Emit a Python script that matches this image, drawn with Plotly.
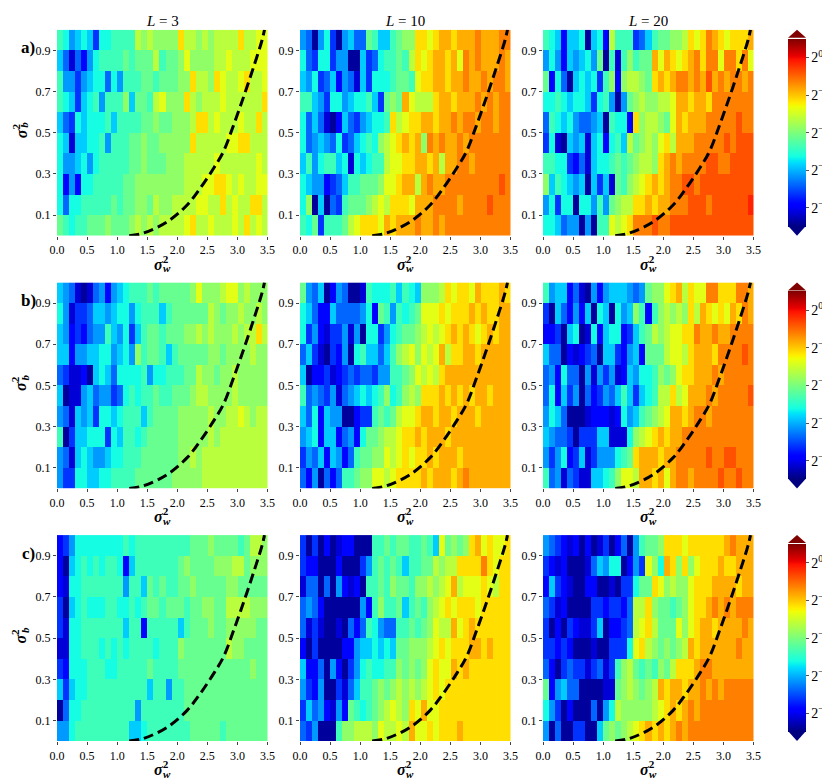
import numpy as np
import plotly.graph_objects as go

# colour level codes (top row first);
# code k means log2 value -9.25 + 0.5*k
LEVELS = "0123456789ABCDEFGHIJ"

sigma_w2 = [round(0.05 + 0.1 * i, 2) for i in range(35)]   # cell centres
sigma_b2 = [round(0.05 + 0.1 * i, 2) for i in range(10)]

a_L3 = [
    "9867874889 999CBCBBBB ECCBCBCCCC ECCDD",
    "75253689999A9AAAC9AA BDBBBBCCDC CCDDD",
    "9664678858 6999AA9AAA BBECCBEDCC DECCD",
    "9874789699 9B7AA9CDBB BECBCCCDCC CCCCE",
    "7548788897 9999AABAAB BBCEECDCCC DCCEC",
    "8727788969 99AABAABBB BBECCCCCDD EECCC",
    "8667868999 99AABAAABB BCCCCCDCCC CCCDC",
    "8363889999 9AABBBBBBB BCCCDDEEDC DCCDD",
    "858899999A 9AABBACBBC CCCDDCCECD CCEEC",
    "A9899AAABA AABCBCBCCC CDECCDCCCD CECDC",
]
a_L10 = [
    "6516841675 5A9779ABBE EDEFFEFFFG FFFGG",
    "8548846611 745899A9CE DEFFEFDGFG FFFGF",
    "7684573652 748889AA9D EEFFEFFGFF GFGGF",
    "9976488678 8974ABAFDC CCEFFEFFFG FGFGG",
    "8575213754 67889ECDEE FFEFFGFGGF GGFGG",
    "8567658457 898BCDEFEF BGFGFFGFGG GGGGG",
    "7968997828 7899CDDEEF FEFCFFGGFG GGGGG",
    "8766345799 AAABDDEFFC FGFFGGGGGG GGGHG",
    "8B171549AA ABCDCEEEDF FFGGGGFGGG GHGGG",
    "98A4999ACD EEEDFEFFFG FFGFGGGGGG GGGGG",
]
a_L20 = [
    "9873778178 3C9994579A ABBCEDEGFE DEEEF",
    "686376786A 1929B9AAFD FEDEFGEGGD GGEGD",
    "A385178784 9B3BCCBAEF EFGGFGFHFG FGGFG",
    "8898788748 9616ABCBBC CDFFEFFEGG GGGGG",
    "5987865567 19883EBCCB ADFEFFFGGG GGHGG",
    "4821767278 3897CABCBD ECFFFGGGGG HGHHH",
    "9988435278 89A9ABCCBE FGFGGGGHHG GHHHH",
    "B798767174 72A9BCDEFE FGGHHGHHHH HHHHH",
    "6848818869 6ABCCEEFEF FGGGHHHGHH HHHHI",
    "8875661619 9DCDEGGGHG GHHHHHHHHH HHHHH",
]
b_L3 = [
    "7652125636 78999A9AAA AABDBBBCDD BCBBB",
    "8624457767 886899979A AAAAACBABB CBBCB",
    "7634356697 68479AA9AA ABBCBCBBBC BCCEC",
    "7736677886 786B9AA979 AAAAABBABB BBCBB",
    "5422317875 8888968899 9AACBBABBC BBBBB",
    "7122675664 589899A99A AABCCBBBBC BBBBB",
    "6527674887 899979AAAA BBBBBCBBCC DCBCC",
    "9147788848 79989AAAAA BBBBBCBCCC CCCCC",
    "6527876678 8999AAAAAA BBCBCCCCCC CCCCC",
    "6448877889 999AAAAAAB BBBBCCCCCC CCCCC",
]
b_L10 = [
    "A657136511 2988897987 BBBCEDEEDF EEEFE",
    "8753375555 683A96989A DDDEDEEEFE FEEFF",
    "8463244626 1884689AAB CDCDEFEFED EFEFF",
    "5742143618 977579BCDB DCDFCEEFFE FFFFF",
    "7133423454 5546699ABD CDCEFFFFFF FFFFF",
    "9565462567 8789B89BCB EEEFEFEFEF FEFFF",
    "7583766113 449A9ACDDE FFEFFEFFFE FFFFF",
    "6783773563 8AABCCDEEF EFFFEFFFFF FFFFF",
    "4657376359 AABBDCDEDE EFEFFFEFFF FFFFF",
    "536153599A BBDDCDEEEE FEFFFEFGFF FFFFF",
]
b_L20 = [
    "9677352163 6777656ABB DEFCEDDGGE EEGGF",
    "4175363718 71867B939B CBCBECFEDE DFEGF",
    "3341781283 7883479ACB CDDEEGFFGF FGGGG",
    "7551323451 7743673AAA CDDCEFFFEG GGGHG",
    "5638551626 462376889B ABDEEFFFGF GGGGG",
    "5837461534 657974789C CECDFFFGFG GGGGH",
    "6875111233 3238679ABC DFFEFGGFGG GGGGG",
    "7655414447 72228BCDEF EFFGGGGGGG GGGGG",
    "6468347246 6689AEFFFE FFGGGGGHGG HHGGG",
    "9562542277 89BDDCFFEF DFGGFGGGGH GGHGG",
]
c_L3 = [
    "3468888888 8989999999 99AAABAAAA 9ACCB",
    "3178989899 8379999999 ABAAAABBBC CABBB",
    "3288999999 96997A9A99 AABAAAAABB AAAAA",
    "4178988899 88989AA9AA A9AABBAACC CCBBB",
    "4288999999 9799399999 79AAABAABB BBBAA",
    "2288999898 9899998999 BAAAAAAACB BAAAA",
    "4388899988 99999A9999 AAAAAAAAAA AABAA",
    "7478899999 9999979969 9AAAAAAAAA AAAAA",
    "1588999999 9996999999 9AAAAAAAAA AAAAA",
    "6689999999 9977899999 99AAAAA9AA AAAAA",
]
c_L10 = [
    "4141312331 1199A9AA99 A97DABABEF DEDDE",
    "4331113111 469A9A9799 AACBCCEEEE GEDEE",
    "2551516323 199A9BAA9B BCBCDFCDDD EDCEE",
    "5653111111 639B99A79A 9BCDEDEEED EEEEE",
    "5242112153 59865599A9 ABDCCFDEFE EEEEE",
    "3141111336 778787AABB BCDEDEEEFF EFEEE",
    "7335163146 898899BABA BDEDDFEFEE EEEEE",
    "6436114257 99ABABCBCB CDEDEEEEEE EEEEE",
    "47563263A9 89ABCDCBED FDDEEEEEEE EEEEE",
    "5461119BBC CCBDCCDCFD DEDEEEFEEE EEEEE",
]
c_L20 = [
    "6543231312 4135169AAB EEEDEEEEEE FGFFF",
    "4323111257 6881364DB8 FEBEBDEEEF EEFFF",
    "3743211331 121448AAED BCBBDEEEFF FFEFF",
    "5423111144 34435CCEBA A9ABDEEFGF GFGGG",
    "4131432247 13345CDECA AADBDEFFEF FFFGF",
    "4434311121 14448DECBA BABCFEFFFF FFGFF",
    "5314544245 249BCA9A9B ACEEEFGGFF FFFFF",
    "A367551111 22ABCBABCF EFFEFFGFGF GGGGG",
    "8641311151 68CBBBBBCD EFEFGFGGGG GGGGG",
    "6151144117 ABABCDEFEF EFGFGGGGGG GGGGG",
]

panel_rows = [[a_L3, a_L10, a_L20], [b_L3, b_L10, b_L20], [c_L3, c_L10, c_L20]]
col_titles = ["<i>L</i> = 3", "<i>L</i> = 10", "<i>L</i> = 20"]
row_tags = ["a)", "b)", "c)"]

# dashed boundary, points
curve_w2 = [1.20, 1.44, 1.83, 2.16, 2.38, 2.61, 2.77, 2.94, 3.11, 3.27, 3.41, 3.45]
curve_b2 = [0.0, 0.013, 0.067, 0.148, 0.23, 0.33, 0.41, 0.54, 0.68, 0.82, 0.95, 1.0]

cbar_vals = [-8, -6, -4, -2, 0]
cbar_text = ["2<sup>\u22128</sup>", "2<sup>\u22126</sup>", "2<sup>\u22124</sup>",
             "2<sup>\u22122</sup>", "2<sup>0</sup>"]


def decode(rows):
    z = []
    for r in reversed(rows):
        s = r.replace(" ", "")
        s = (s + s[-1] * 35)[:35]
        z.append([-9.25 + 0.5 * LEVELS.index(c) for c in s])
    return z


# matplotlib "jet"
_r = [(0, 0), (0.35, 0), (0.66, 1), (0.89, 1), (1, 0.5)]
_g = [(0, 0), (0.125, 0), (0.375, 1), (0.64, 1), (0.91, 0), (1, 0)]
_b = [(0, 0.5), (0.11, 1), (0.34, 1), (0.65, 0), (1, 0)]
pos = np.linspace(0, 1, 101)
chan = [np.interp(pos, [p[0] for p in c], [p[1] for p in c]) for c in (_r, _g, _b)]
jet = [[float(p), "rgb(%d,%d,%d)" % tuple(int(round(255 * ch[i])) for ch in chan)]
       for i, p in enumerate(pos)]

W, H = 830, 779
col_left = [49, 292, 535]
row_top = [21.7, 274.4, 527.1]
pw, ph = 210.5, 206
cb_left, cb_w = 780, 18
FONT = "Liberation Serif"

px = lambda v: v / W
py = lambda v: 1 - v / H


def label(x, y, text, size, **kw):
    # x, y in pixels from the top-left corner
    return dict(x=px(x), y=py(y), xref="paper", yref="paper", text=text, showarrow=False,
                xanchor="center", yanchor="middle", borderpad=0,
                font=dict(family=FONT, size=size, color="black"), **kw)


SIG2 = "<b><i>σ</i></b><sup><b>2</b></sup>"

fig = go.Figure()
annotations = []
shapes = []

for i in range(3):
    for j in range(3):
        k = i * 3 + j + 1
        xa = "x" if k == 1 else f"x{k}"
        ya = "y" if k == 1 else f"y{k}"
        fig.add_trace(go.Heatmap(
            z=decode(panel_rows[i][j]), x=sigma_w2, y=sigma_b2,
            zmin=-9, zmax=1, colorscale=jet, showscale=(j == 2),
            colorbar=dict(
                x=px(cb_left), xanchor="left", xpad=0, thickness=cb_w,
                len=188 / H, lenmode="fraction", y=py(row_top[i] + 103), yanchor="middle",
                ypad=0, outlinewidth=0, tickvals=cbar_vals, ticktext=cbar_text,
                ticks="outside", ticklen=3, tickcolor="#555",
                tickfont=dict(family=FONT, size=14, color="black")),
            xaxis=xa, yaxis=ya, hoverinfo="skip"))
        fig.add_trace(go.Scatter(
            x=curve_w2, y=curve_b2, mode="lines", line_shape="spline",
            line=dict(color="black", width=3, dash="10px,5px"),
            xaxis=xa, yaxis=ya, hoverinfo="skip"))

        left, top = col_left[j], row_top[i]
        axfont = dict(family=FONT, size=12, color="black")
        fig.layout["xaxis" if k == 1 else f"xaxis{k}"] = dict(
            domain=[px(left), px(left + pw)], range=[0, 3.5], anchor=ya,
            tickvals=[0, 0.5, 1, 1.5, 2, 2.5, 3, 3.5], tickformat=".1f",
            ticks="outside", ticklen=3, tickcolor="#444", showgrid=False,
            zeroline=False, showline=False, tickfont=axfont, fixedrange=True)
        fig.layout["yaxis" if k == 1 else f"yaxis{k}"] = dict(
            domain=[py(top + ph), py(top)], range=[0, 1], anchor=xa,
            tickvals=[0.1, 0.3, 0.5, 0.7, 0.9], tickformat=".1f",
            ticks="outside", ticklen=3, tickcolor="#444", showgrid=False,
            zeroline=False, showline=False, tickfont=axfont, fixedrange=True)

        cx, cy = left + pw / 2, top + ph / 2
        # sigma_w^2 with the 2 stacked over the w
        annotations.append(label(cx - 1, top + ph + 27, SIG2, 16))
        annotations.append(label(cx + 5, top + ph + 32.5, "<b><i>w</i></b>", 11))
        if i == 0:
            annotations.append(label(cx, 13, col_titles[j], 15))
        if j == 0:
            annotations.append(label(11.5, cy - 2, SIG2, 16, textangle=-90))
            annotations.append(label(16.5, cy - 7.5, "<b><i>b</i></b>", 11, textangle=-90))
            annotations.append(label(20, top + 18, "<b>" + row_tags[i] + "</b>", 17))

    # colorbar extension triangles
    top, bot = row_top[i] + 8, row_top[i] + ph - 10
    xl, xr, xm = px(cb_left), px(cb_left + cb_w), px(cb_left + cb_w / 2)
    shapes.append(dict(
        type="path", xref="paper", yref="paper", line=dict(width=0),
        fillcolor="rgb(128,0,0)",
        path=f"M {xl},{py(top)} L {xr},{py(top)} L {xm},{py(row_top[i])} Z"))
    shapes.append(dict(
        type="path", xref="paper", yref="paper", line=dict(width=0),
        fillcolor="rgb(0,0,128)",
        path=f"M {xl},{py(bot)} L {xr},{py(bot)} L {xm},{py(row_top[i] + ph)} Z"))

fig.update_layout(
    width=W, height=H, showlegend=False,
    margin=dict(l=0, r=0, t=0, b=0, autoexpand=False),
    paper_bgcolor="white", plot_bgcolor="white",
    annotations=annotations, shapes=shapes)

fig.write_html("out.html")
